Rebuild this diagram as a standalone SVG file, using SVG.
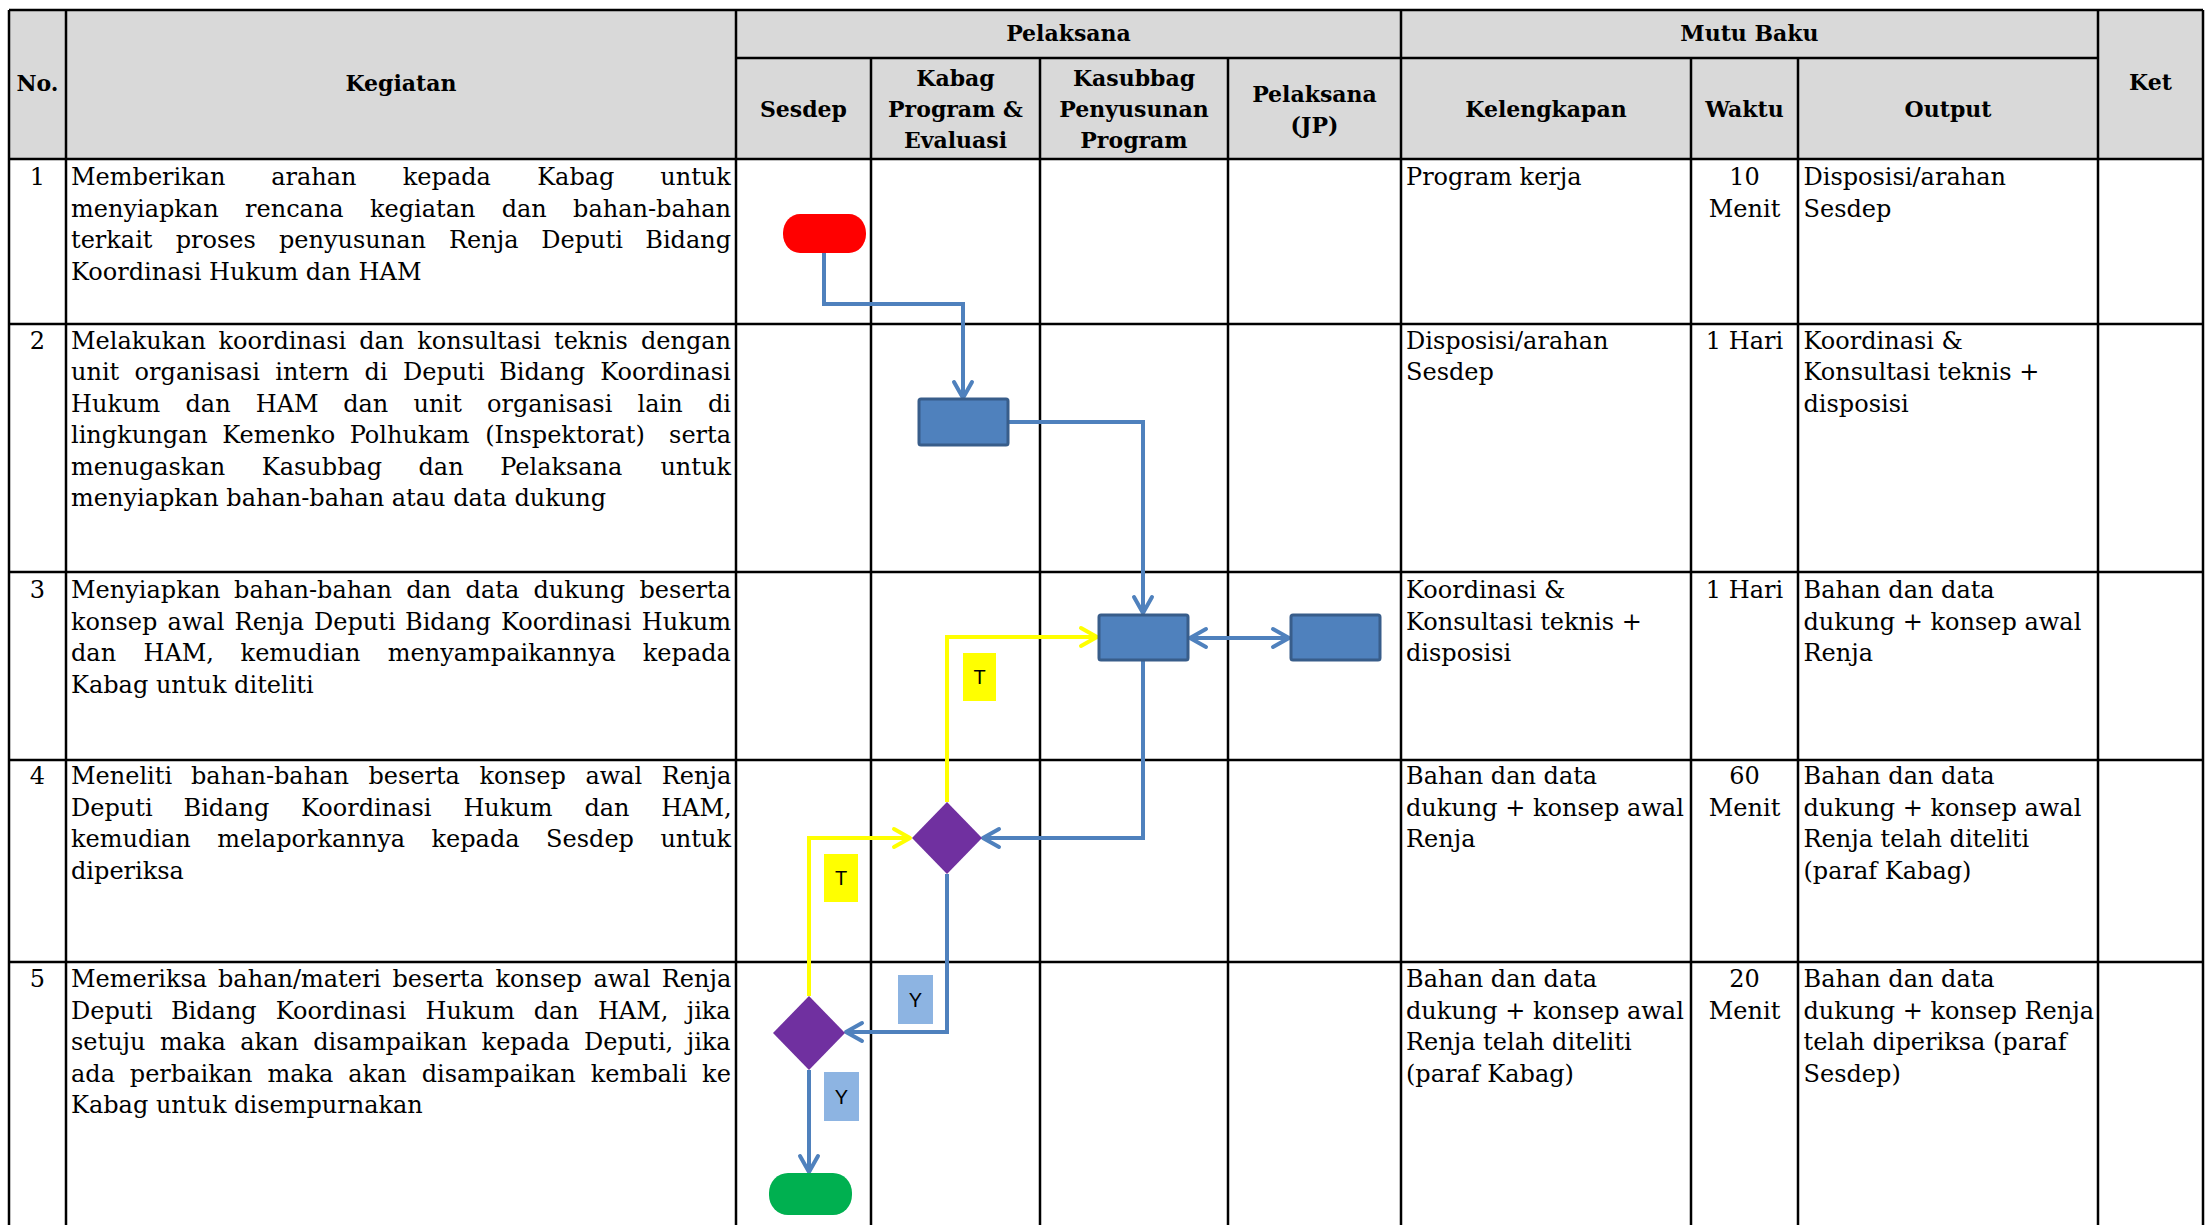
<svg xmlns="http://www.w3.org/2000/svg" width="2209" height="1225" viewBox="0 0 2209 1225">
<style>
.grid{stroke:#000;stroke-width:2.5;fill:none}
.hd{font-family:"DejaVu Serif",serif;font-weight:bold;font-size:22px;text-anchor:middle;fill:#000}
.tx{font-family:"DejaVu Serif",serif;font-size:24px;fill:#000}
.c{text-anchor:middle}
.flow{fill:none;stroke:#4F81BD;stroke-width:4}
.yflow{fill:none;stroke:#FFFF00;stroke-width:4}
.box{fill:#4F81BD;stroke:#385D8A;stroke-width:3}
.dia{fill:#7030A0}
.lbl{font-family:"Liberation Sans",Arial,sans-serif;font-size:20px;text-anchor:middle;fill:#000}
</style>
<defs>
<marker id="ab" markerUnits="userSpaceOnUse" markerWidth="26" markerHeight="26" viewBox="0 0 26 26" refX="21" refY="13" orient="auto-start-reverse"><path d="M5,4 L21,13 L5,22" fill="none" stroke="#4F81BD" stroke-width="4" stroke-linecap="round" stroke-linejoin="round"/></marker>
<marker id="ay" markerUnits="userSpaceOnUse" markerWidth="26" markerHeight="26" viewBox="0 0 26 26" refX="21" refY="13" orient="auto-start-reverse"><path d="M5,4 L21,13 L5,22" fill="none" stroke="#FFFF00" stroke-width="4" stroke-linecap="round" stroke-linejoin="round"/></marker>
</defs>
<rect x="0" y="0" width="2209" height="1225" fill="#fff"/>
<g id="table">
<rect x="9" y="10" width="2194" height="149" fill="#D9D9D9"/>
<path class="grid" d="M9,10 H2203 M736,58 H2098 M9,159 H2203 M9,324 H2203 M9,572 H2203 M9,760 H2203 M9,962 H2203 M9,10 V1225 M66,10 V1225 M736,10 V1225 M1401,10 V1225 M2098,10 V1225 M2203,10 V1225 M871,58 V1225 M1040,58 V1225 M1228,58 V1225 M1691,58 V1225 M1798,58 V1225"/>
</g>
<g id="header">
<text class="hd" x="37.5" y="91">No.</text>
<text class="hd" x="401" y="91">Kegiatan</text>
<text class="hd" x="1068.5" y="41">Pelaksana</text>
<text class="hd" x="1749.5" y="41">Mutu Baku</text>
<text class="hd" x="2150.5" y="90">Ket</text>
<text class="hd" x="803.5" y="117">Sesdep</text>
<text class="hd" x="955.5" y="86">Kabag<tspan x="955.5" dy="31">Program &amp;</tspan><tspan x="955.5" dy="31">Evaluasi</tspan></text>
<text class="hd" x="1134" y="86">Kasubbag<tspan x="1134" dy="31">Penyusunan</tspan><tspan x="1134" dy="31">Program</tspan></text>
<text class="hd" x="1314.5" y="102">Pelaksana<tspan x="1314.5" dy="31">(JP)</tspan></text>
<text class="hd" x="1546" y="117">Kelengkapan</text>
<text class="hd" x="1744.5" y="117">Waktu</text>
<text class="hd" x="1948" y="117">Output</text>
</g>
<g id="row1">
<text class="tx c" x="37.5" y="185">1</text>
<text class="tx" y="185"><tspan x="71">Memberikan</tspan><tspan x="271.2">arahan</tspan><tspan x="402.8">kepada</tspan><tspan x="537.2">Kabag</tspan><tspan x="660.3">untuk</tspan></text>
<text class="tx" y="216.5"><tspan x="71">menyiapkan</tspan><tspan x="245">rencana</tspan><tspan x="369.9">kegiatan</tspan><tspan x="501.7">dan</tspan><tspan x="573.1">bahan-bahan</tspan></text>
<text class="tx" y="248"><tspan x="71">terkait</tspan><tspan x="175.7">proses</tspan><tspan x="278.9">penyusunan</tspan><tspan x="449">Renja</tspan><tspan x="541.3">Deputi</tspan><tspan x="645.3">Bidang</tspan></text>
<text class="tx" x="71" y="279.5">Koordinasi Hukum dan HAM</text>
<text class="tx" x="1406" y="185">Program kerja</text>
<text class="tx c" x="1744.5" y="185">10<tspan x="1744.5" dy="31.5">Menit</tspan></text>
<text class="tx" x="1803.5" y="185">Disposisi/arahan<tspan x="1803.5" dy="31.5">Sesdep</tspan></text>
</g>
<g id="row2">
<text class="tx c" x="37.5" y="348.5">2</text>
<text class="tx" y="348.5"><tspan x="71">Melakukan</tspan><tspan x="218.5">koordinasi</tspan><tspan x="359.2">dan</tspan><tspan x="417.2">konsultasi</tspan><tspan x="554">teknis</tspan><tspan x="640.9">dengan</tspan></text>
<text class="tx" y="380"><tspan x="71">unit</tspan><tspan x="134.6">organisasi</tspan><tspan x="275.3">intern</tspan><tspan x="364.6">di</tspan><tspan x="403">Deputi</tspan><tspan x="499.2">Bidang</tspan><tspan x="600.3">Koordinasi</tspan></text>
<text class="tx" y="411.5"><tspan x="71">Hukum</tspan><tspan x="185.5">dan</tspan><tspan x="255.8">HAM</tspan><tspan x="343.2">dan</tspan><tspan x="413.6">unit</tspan><tspan x="487">organisasi</tspan><tspan x="637.6">lain</tspan><tspan x="708">di</tspan></text>
<text class="tx" y="443"><tspan x="71">lingkungan</tspan><tspan x="222.2">Kemenko</tspan><tspan x="349.7">Polhukam</tspan><tspan x="485.2">(Inspektorat)</tspan><tspan x="669.1">serta</tspan></text>
<text class="tx" y="474.5"><tspan x="71">menugaskan</tspan><tspan x="261.8">Kasubbag</tspan><tspan x="418.5">dan</tspan><tspan x="500.2">Pelaksana</tspan><tspan x="660.4">untuk</tspan></text>
<text class="tx" x="71" y="506">menyiapkan bahan-bahan atau data dukung</text>
<text class="tx" x="1406" y="348.5">Disposisi/arahan<tspan x="1406" dy="31.5">Sesdep</tspan></text>
<text class="tx c" x="1744.5" y="348.5">1 Hari</text>
<text class="tx" x="1803.5" y="348.5">Koordinasi &amp;<tspan x="1803.5" dy="31.5">Konsultasi teknis +</tspan><tspan x="1803.5" dy="31.5">disposisi</tspan></text>
</g>
<g id="row3">
<text class="tx c" x="37.5" y="598">3</text>
<text class="tx" y="598"><tspan x="71">Menyiapkan</tspan><tspan x="234.1">bahan-bahan</tspan><tspan x="406.2">dan</tspan><tspan x="465.6">data</tspan><tspan x="533.5">dukung</tspan><tspan x="639.5">beserta</tspan></text>
<text class="tx" y="629.5"><tspan x="71">konsep</tspan><tspan x="167.6">awal</tspan><tspan x="234.6">Renja</tspan><tspan x="314">Deputi</tspan><tspan x="405">Bidang</tspan><tspan x="500.9">Koordinasi</tspan><tspan x="641.8">Hukum</tspan></text>
<text class="tx" y="661"><tspan x="71">dan</tspan><tspan x="143.5">HAM,</tspan><tspan x="240.6">kemudian</tspan><tspan x="387.8">menyampaikannya</tspan><tspan x="642.8">kepada</tspan></text>
<text class="tx" x="71" y="692.5">Kabag untuk diteliti</text>
<text class="tx" x="1406" y="598">Koordinasi &amp;<tspan x="1406" dy="31.5">Konsultasi teknis +</tspan><tspan x="1406" dy="31.5">disposisi</tspan></text>
<text class="tx c" x="1744.5" y="598">1 Hari</text>
<text class="tx" x="1803.5" y="598">Bahan dan data<tspan x="1803.5" dy="31.5">dukung + konsep awal</tspan><tspan x="1803.5" dy="31.5">Renja</tspan></text>
</g>
<g id="row4">
<text class="tx c" x="37.5" y="784">4</text>
<text class="tx" y="784"><tspan x="71">Meneliti</tspan><tspan x="191">bahan-bahan</tspan><tspan x="368.4">beserta</tspan><tspan x="479.5">konsep</tspan><tspan x="585.4">awal</tspan><tspan x="661.8">Renja</tspan></text>
<text class="tx" y="815.5"><tspan x="71">Deputi</tspan><tspan x="183.5">Bidang</tspan><tspan x="301">Koordinasi</tspan><tspan x="463.4">Hukum</tspan><tspan x="584.4">dan</tspan><tspan x="661.2">HAM,</tspan></text>
<text class="tx" y="847"><tspan x="71">kemudian</tspan><tspan x="217.2">melaporkannya</tspan><tspan x="431.5">kepada</tspan><tspan x="546.1">Sesdep</tspan><tspan x="660.4">untuk</tspan></text>
<text class="tx" x="71" y="878.5">diperiksa</text>
<text class="tx" x="1406" y="784">Bahan dan data<tspan x="1406" dy="31.5">dukung + konsep awal</tspan><tspan x="1406" dy="31.5">Renja</tspan></text>
<text class="tx c" x="1744.5" y="784">60<tspan x="1744.5" dy="31.5">Menit</tspan></text>
<text class="tx" x="1803.5" y="784">Bahan dan data<tspan x="1803.5" dy="31.5">dukung + konsep awal</tspan><tspan x="1803.5" dy="31.5">Renja telah diteliti</tspan><tspan x="1803.5" dy="31.5">(paraf Kabag)</tspan></text>
</g>
<g id="row5">
<text class="tx c" x="37.5" y="987">5</text>
<text class="tx" y="987"><tspan x="71">Memeriksa</tspan><tspan x="218">bahan/materi</tspan><tspan x="392.5">beserta</tspan><tspan x="495.5">konsep</tspan><tspan x="593.5">awal</tspan><tspan x="661.8">Renja</tspan></text>
<text class="tx" y="1018.5"><tspan x="71">Deputi</tspan><tspan x="170.9">Bidang</tspan><tspan x="275.7">Koordinasi</tspan><tspan x="425.5">Hukum</tspan><tspan x="533.7">dan</tspan><tspan x="597.9">HAM,</tspan><tspan x="686.7">jika</tspan></text>
<text class="tx" y="1050"><tspan x="71">setuju</tspan><tspan x="160">maka</tspan><tspan x="240.2">akan</tspan><tspan x="313.2">disampaikan</tspan><tspan x="481.6">kepada</tspan><tspan x="584">Deputi,</tspan><tspan x="686.7">jika</tspan></text>
<text class="tx" y="1081.5"><tspan x="71">ada</tspan><tspan x="129.8">perbaikan</tspan><tspan x="267.4">maka</tspan><tspan x="348.2">akan</tspan><tspan x="421.7">disampaikan</tspan><tspan x="590.7">kembali</tspan><tspan x="702.1">ke</tspan></text>
<text class="tx" x="71" y="1113">Kabag untuk disempurnakan</text>
<text class="tx" x="1406" y="987">Bahan dan data<tspan x="1406" dy="31.5">dukung + konsep awal</tspan><tspan x="1406" dy="31.5">Renja telah diteliti</tspan><tspan x="1406" dy="31.5">(paraf Kabag)</tspan></text>
<text class="tx c" x="1744.5" y="987">20<tspan x="1744.5" dy="31.5">Menit</tspan></text>
<text class="tx" x="1803.5" y="987">Bahan dan data<tspan x="1803.5" dy="31.5">dukung + konsep Renja</tspan><tspan x="1803.5" dy="31.5">telah diperiksa (paraf</tspan><tspan x="1803.5" dy="31.5">Sesdep)</tspan></text>
</g>
<g id="connectors">
<path class="flow" d="M824,253 V304 H963 V398" marker-end="url(#ab)"/>
<path class="flow" d="M1008,422 H1143 V613" marker-end="url(#ab)"/>
<path class="flow" d="M1190,638 H1289" marker-start="url(#ab)" marker-end="url(#ab)"/>
<path class="flow" d="M1143,660 V838 H983" marker-end="url(#ab)"/>
<path class="yflow" d="M947,802 V637 H1097" marker-end="url(#ay)"/>
<path class="flow" d="M947,874 V1032 H846" marker-end="url(#ab)"/>
<path class="yflow" d="M809,996 V838 H910" marker-end="url(#ay)"/>
<path class="flow" d="M809,1070 V1172" marker-end="url(#ab)"/>
<g id="lbl-t1"><rect x="963" y="653" width="33" height="48" fill="#FFFF00"/><text class="lbl" x="979.5" y="684">T</text></g>
<g id="lbl-t2"><rect x="824" y="854" width="34" height="48" fill="#FFFF00"/><text class="lbl" x="841" y="885">T</text></g>
<g id="lbl-y1"><rect x="898" y="975" width="35" height="49" fill="#8DB4E2"/><text class="lbl" x="915.5" y="1007">Y</text></g>
<g id="lbl-y2"><rect x="824" y="1072" width="35" height="49" fill="#8DB4E2"/><text class="lbl" x="841.5" y="1104">Y</text></g>
</g>
<g id="start"><rect x="783" y="214" width="83" height="39" rx="17" ry="19" fill="#FF0000"/></g>
<g id="kabag-koordinasi"><rect class="box" x="919" y="399" width="89" height="46" rx="2"/></g>
<g id="kasubbag-siapkan"><rect class="box" x="1099" y="615" width="89" height="45" rx="2"/></g>
<g id="pelaksana-siapkan"><rect class="box" x="1291" y="615" width="89" height="45" rx="2"/></g>
<g id="kabag-teliti"><polygon class="dia" points="947,802 982,838 947,874 912,838"/></g>
<g id="sesdep-periksa"><polygon class="dia" points="809,996 845,1033 809,1070 773,1033"/></g>
<g id="end"><rect x="769" y="1173" width="83" height="42" rx="19" ry="20" fill="#00B050"/></g>
</svg>
